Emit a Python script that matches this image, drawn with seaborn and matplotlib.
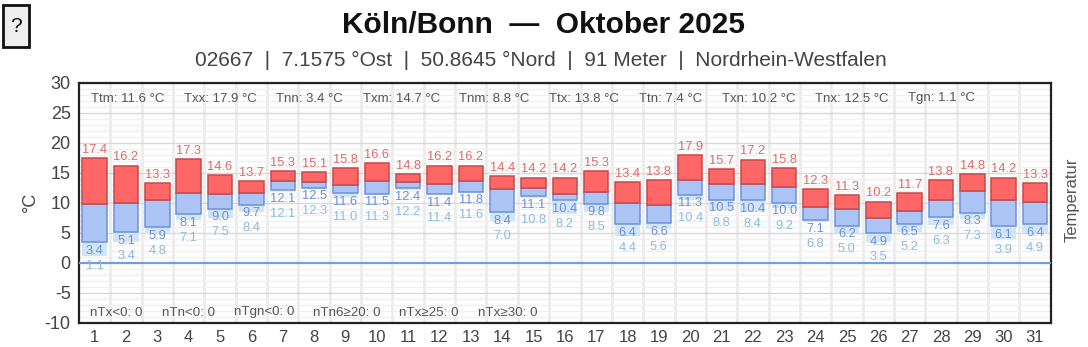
import numpy as np
import pandas as pd
import matplotlib
matplotlib.use("Agg")
import matplotlib.pyplot as plt
from matplotlib.patches import Rectangle
from matplotlib.ticker import MultipleLocator, FixedLocator
import seaborn as sns

# Daily values, Köln/Bonn, October 2025
days = list(range(1, 32))
t_max = [17.4, 16.2, 13.3, 17.3, 14.6, 13.7, 15.3, 15.1, 15.8, 16.6, 14.8, 16.2, 16.2, 14.4, 14.2, 14.2,
         15.3, 13.4, 13.8, 17.9, 15.7, 17.2, 15.8, 12.3, 11.3, 10.2, 11.7, 13.8, 14.8, 14.2, 13.3]
t_mean = [9.8, 10.0, 10.5, 11.6, 11.4, 11.6, 13.7, 13.5, 13.0, 13.7, 13.5, 13.2, 13.7, 12.3, 12.5, 11.5,
          11.8, 10.0, 9.7, 13.8, 13.2, 13.2, 12.6, 9.3, 9.0, 7.4, 8.7, 10.4, 11.9, 10.4, 10.2]
t_min = [3.4, 5.1, 5.9, 8.1, 9.0, 9.7, 12.1, 12.5, 11.6, 11.5, 12.4, 11.4, 11.8, 8.4, 11.1, 10.4,
         9.8, 6.4, 6.6, 11.3, 10.5, 10.4, 10.0, 7.1, 6.2, 4.9, 6.5, 7.6, 8.3, 6.1, 6.4]
t_ground = [1.1, 3.4, 4.8, 7.1, 7.5, 8.4, 12.1, 12.3, 11.0, 11.3, 12.2, 11.4, 11.6, 7.0, 10.8, 8.2,
            8.5, 4.4, 5.6, 10.4, 8.8, 8.4, 9.2, 6.8, 5.0, 3.5, 5.2, 6.3, 7.3, 3.9, 4.9]

stats_top = ["Ttm: 11.6 °C", "Txx: 17.9 °C", "Tnn: 3.4 °C", "Txm: 14.7 °C", "Tnm: 8.8 °C",
             "Ttx: 13.8 °C", "Ttn: 7.4 °C", "Txn: 10.2 °C", "Tnx: 12.5 °C", "Tgn: 1.1 °C"]
stats_bottom = ["nTx<0: 0", "nTn<0: 0", "nTgn<0: 0", "nTn6≥20: 0", "nTx≥25: 0", "nTx≥30: 0"]

title = "Köln/Bonn  —  Oktober 2025"
subtitle = "02667  |  7.1575 °Ost  |  50.8645 °Nord  |  91 Meter  |  Nordrhein-Westfalen"

df = pd.DataFrame({"Tag": days, "Tx": t_max, "Tm": t_mean, "Tn": t_min, "Tg": t_ground})
df["warm"] = df["Tx"] - df["Tm"]
df["kalt"] = df["Tm"] - df["Tn"]
df["boden"] = df["Tn"] - df["Tg"]

sns.set_theme(style="white")
plt.rcParams["font.family"] = ["Liberation Sans", "DejaVu Sans"]
plt.rcParams["axes.unicode_minus"] = False

W, H = 1088, 347
fig = plt.figure(figsize=(W / 100, H / 100), dpi=100)


def fx(px):
    return px / W


def fy(py):
    return 1 - py / H


ax = fig.add_axes([fx(79), fy(322.7), (1050.7 - 79) / W, 240 / H])

# ground-minimum band, min-to-mean bar, mean-to-max bar
sns.barplot(data=df, x="Tag", y="boden", bottom=df["Tg"], native_scale=True, errorbar=None,
            color="#d0e6f8", saturation=1, width=0.8, linewidth=0, ax=ax, zorder=2)
sns.barplot(data=df, x="Tag", y="kalt", bottom=df["Tn"], native_scale=True, errorbar=None,
            color="#abc4f3", saturation=1, width=0.78, edgecolor="#6d91e0", linewidth=1.1,
            ax=ax, zorder=3)
sns.barplot(data=df, x="Tag", y="warm", bottom=df["Tm"], native_scale=True, errorbar=None,
            color="#ff6767", saturation=1, width=0.78, edgecolor="#c84848", linewidth=1.1,
            ax=ax, zorder=3)

ax.axhline(0, color="#6f9be8", lw=1.5, zorder=4)

lab_fs = 9.3
for d, tx, tn, tg in zip(days, t_max, t_min, t_ground):
    ax.annotate(f"{tx:.1f}", (d, tx), xytext=(0, 8), textcoords="offset pixels",
                ha="center", va="center", fontsize=lab_fs, color="#e06a6a", zorder=5)
    ax.annotate(f"{tn:.1f}", (d, tn), xytext=(0, -8.5), textcoords="offset pixels",
                ha="center", va="center", fontsize=lab_fs, color="#6f8edb", zorder=5)
    ax.annotate(f"{tg:.1f}", (d, tn), xytext=(0, -23.5), textcoords="offset pixels",
                ha="center", va="center", fontsize=lab_fs, color="#8bbbe0", zorder=5)

ax.set_xlim(0.5, 31.5)
ax.set_ylim(-10, 30)
ax.xaxis.set_major_locator(FixedLocator(days))
ax.xaxis.set_minor_locator(FixedLocator([d + 0.5 for d in days[:-1]]))
ax.yaxis.set_major_locator(MultipleLocator(5))
ax.yaxis.set_minor_locator(MultipleLocator(1))
ax.set_xticklabels([str(d) for d in days])

ax.set_axisbelow(True)
ax.xaxis.grid(True, which="minor", color="#ebebeb", lw=2)
ax.xaxis.grid(False, which="major")
ax.yaxis.grid(True, which="major", color="#d9d9d9", lw=1)
ax.yaxis.grid(True, which="minor", color="#f0f0f0", lw=1)

ax.tick_params(axis="y", which="both", length=0, pad=6, labelsize=13, labelcolor="#444444")
ax.tick_params(axis="x", which="both", length=0, pad=5, labelsize=12, labelcolor="#444444")
for s in ax.spines.values():
    s.set_visible(True)
    s.set_color("#222222")
    s.set_linewidth(1.6)

ax.set_xlabel("")
ax.set_ylabel("")
fig.text(fx(30), fy(202), "°C", rotation=90, ha="center", va="center", fontsize=13, color="#444444")
fig.text(fx(1072), fy(200), "Temperatur", rotation=90, ha="center", va="center", fontsize=12,
         color="#555555")

# summary statistics inside the plot area
top_x = [91, 184, 276, 363, 459, 549, 639, 722, 815, 908]
for px, s in zip(top_x, stats_top):
    fig.text(fx(px), fy(101.5), s, ha="left", va="baseline", fontsize=9.5, color="#555555")
bottom_x = [90, 162, 234, 313, 399, 478]
for px, s in zip(bottom_x, stats_bottom):
    fig.text(fx(px), fy(315.5), s, ha="left", va="baseline", fontsize=9.6, color="#555555")

fig.text(fx(543), fy(25), title, ha="center", va="center", fontsize=21.5, fontweight="bold",
         color="#111111")
fig.text(fx(541), fy(60), subtitle, ha="center", va="center", fontsize=15, color="#444444")

# help button
fig.patches.append(Rectangle((fx(3), fy(47)), 26 / W, 42 / H, transform=fig.transFigure,
                             facecolor="#efefef", edgecolor="#111111", lw=2))
fig.text(fx(16), fy(26), "?", ha="center", va="center", fontsize=15, color="#111111")

fig.savefig("out.png", dpi=100)
